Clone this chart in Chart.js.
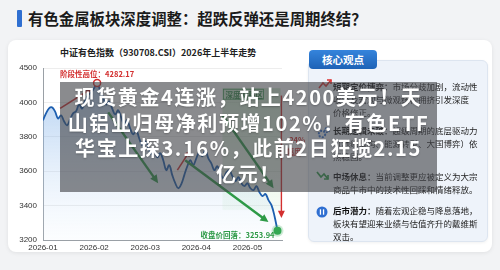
<!DOCTYPE html>
<html>
<head>
<meta charset="utf-8">
<script src="https://cdn.jsdelivr.net/npm/chart.js@4"></script>
<style>
  html, body { margin: 0; padding: 0; }
  body {
    width: 500px; height: 270px; overflow: hidden; position: relative;
    background: #f2f3f5;
    font-family: "Noto Sans CJK SC", "Noto Sans", sans-serif;
  }
  .card { position: absolute; left: 8px; top: 40px; width: 484px; height: 212px;
    background: #fff; border-radius: 8px; box-shadow: 0 1px 4px rgba(0,0,0,0.08); }
  .bar { position: absolute; left: 17px; top: 10px; width: 5px; height: 17px; background: #2f6fd1; border-radius: 1px; }
  .title { position: absolute; left: 28px; top: 7px; font-size: 15.4px; font-weight: 700; color: #1b1b1b; line-height: 22px; white-space: nowrap; }
  .ctitle { position: absolute; left: 60px; top: 46px; font-size: 9px; font-weight: 700; color: #222; white-space: nowrap; line-height: 14px; }
  canvas { position: absolute; left: 0; top: 0; }
  .panel { position: absolute; left: 308px; top: 60px; width: 180px; height: 182px;
    background: #eef3fa; border: 1px solid #dde5f0; border-radius: 6px; box-sizing: border-box;
    box-shadow: 0 1px 3px rgba(0,0,0,0.06); }
  .tag { position: absolute; left: 309px; top: 50px; width: 68px; height: 19px;
    background: linear-gradient(#3584dc, #1d62b6); border-radius: 4px; color: #fff;
    font-size: 10.5px; font-weight: 700; text-align: center; line-height: 19px; }
  .item { position: absolute; left: 333px; font-size: 8.5px; line-height: 13px; color: #222; white-space: nowrap; }
  .item b { color: #111; }
  .icon { position: absolute; }
  .overlay { position: absolute; left: 60px; top: 82px; width: 377px; height: 110px;
    background: rgba(66,68,72,0.62); color: #fff; text-align: center;
    font-size: 20px; font-weight: 700; line-height: 25.5px; letter-spacing: 1.6px;
    padding-top: 2px; box-sizing: border-box; white-space: nowrap;
    text-shadow: 0 1px 2px rgba(0,0,0,0.25); }
</style>
</head>
<body>
<div class="card"></div>
<div class="bar"></div>
<div class="title">有色金属板块深度调整：超跌反弹还是周期终结？</div>
<div class="ctitle">中证有色指数（930708.CSI）2026年上半年走势</div>

<canvas id="chart" width="500" height="270"></canvas>

<div class="panel"></div>
<div class="tag">核心观点</div>

<svg class="icon" style="left:318px;top:78px" width="14" height="12" viewBox="0 0 14 12">
  <polyline points="1,10 5,5 8,8 13,2" fill="none" stroke="#d33" stroke-width="1.6"/>
  <polyline points="9,2 13,2 13,6" fill="none" stroke="#d33" stroke-width="1.6"/>
</svg>
<div class="item" style="top:80px"><b>短期定价博弈：</b>市场分歧加剧，流动性<br>收紧及宏观与微观结构拥挤引发深度<br>价格修正。</div>

<svg class="icon" style="left:317px;top:126px" width="14" height="14" viewBox="0 0 14 14">
  <circle cx="5" cy="8" r="3.2" fill="none" stroke="#2f6fd1" stroke-width="2" stroke-dasharray="2 1.2"/>
  <circle cx="10" cy="4" r="2.3" fill="none" stroke="#2f6fd1" stroke-width="1.6" stroke-dasharray="1.6 1"/>
</svg>
<div class="item" style="top:124px"><b>长期逻辑未破：</b>超级周期的底层驱动力<br>（地缘重构、能源转型、大国博弈）依<br>然稳固。</div>

<svg class="icon" style="left:316px;top:170px" width="14" height="12" viewBox="0 0 14 12">
  <polyline points="1,2 5,7 8,4 12,9" fill="none" stroke="#2e9a47" stroke-width="1.7"/>
  <polyline points="12,5 12,9 8,9" fill="none" stroke="#2e9a47" stroke-width="1.7"/>
</svg>
<div class="item" style="top:170px"><b>中场休息：</b>当前调整更应被定义为大宗<br>商品牛市中的技术性回踩和情绪释放。</div>

<svg class="icon" style="left:316px;top:206px" width="12" height="12" viewBox="0 0 12 12">
  <circle cx="6" cy="6" r="5.5" fill="#2f6fd1"/>
  <rect x="3.8" y="3.3" width="1.3" height="5.4" fill="#fff"/>
  <rect x="6.9" y="3.3" width="1.3" height="5.4" fill="#fff"/>
</svg>
<div class="item" style="top:204px"><b>后市潜力：</b>随着宏观企稳与降息落地，<br>板块有望迎来业绩与估值齐升的戴维斯<br>双击。</div>

<div class="overlay">现货黄金4连涨，站上4200美元！天<br>山铝业归母净利预增102%！有色ETF<br>华宝上探3.16%，此前2日狂揽2.15<br>亿元！</div>

<script>
// axis labels (the picture's y axis is not evenly valued)
const yTicks = [3200, 3400, 3600, 3800, 4000, 4500];
const monthLabels = ['2026-01', '2026-02', '2026-03', '2026-04', '2026-05'];
const monthStartIdx = [0, 17, 34, 51, 68];

// daily close of 930708.CSI
const closes = [
    3896, 3936, 3965, 3971, 3948, 3907, 3925, 3890, 3867, 3901,
    3936, 3948, 3988, 3965, 4029, 4103, 4147, 4206, 4282.17, 4176,
    4074, 3988, 4015, 3965, 3930, 3954, 3913, 3872, 3896, 3849,
    3814, 3838, 3791, 3751, 3774, 3739, 3699, 3722, 3681, 3704,
    3664, 3606, 3635, 3577, 3530, 3501, 3525, 3577, 3629, 3664,
    3635, 3675, 3710, 3687, 3722, 3675, 3646, 3606, 3629, 3588,
    3559, 3594, 3606, 3571, 3542, 3565, 3530, 3513, 3530, 3501,
    3490, 3513, 3478, 3455, 3467, 3432, 3403, 3340, 3253.94
];
const peakIdx = 18;
const peakLabel = '阶段性高位：4282.17';
const lastLabel = '收盘价回落：3253.94';

// map a price onto the tick-index axis (ticks are evenly spaced)
function toAxis(v) {
    for (let k = 0; k < yTicks.length - 1; k++) {
        if (v <= yTicks[k + 1] || k === yTicks.length - 2) {
            return k + (v - yTicks[k]) / (yTicks[k + 1] - yTicks[k]);
        }
    }
}

const points = closes.map((v, i) => ({ x: i, y: toAxis(v) }));

function drawArrow(ctx, x1, y1, x2, y2, color, w, head) {
    const a = Math.atan2(y2 - y1, x2 - x1);
    ctx.save();
    ctx.strokeStyle = color;
    ctx.fillStyle = color;
    ctx.lineWidth = w;
    ctx.beginPath();
    ctx.moveTo(x1, y1);
    ctx.lineTo(x2 - Math.cos(a) * head * 0.8, y2 - Math.sin(a) * head * 0.8);
    ctx.stroke();
    ctx.beginPath();
    ctx.moveTo(x2, y2);
    ctx.lineTo(x2 - head * Math.cos(a - 0.45), y2 - head * Math.sin(a - 0.45));
    ctx.lineTo(x2 - head * Math.cos(a + 0.45), y2 - head * Math.sin(a + 0.45));
    ctx.closePath();
    ctx.fill();
    ctx.restore();
}

const notesPlugin = {
    id: 'notes',
    beforeDatasetsDraw(chart) {
        const { ctx, scales: { x, y } } = chart;
        // shaded "deep adjustment" zone
        const zx1 = x.getPixelForValue(59.7), zx2 = x.getPixelForValue(79);
        const zy1 = y.getPixelForValue(toAxis(4206)), zy2 = y.getPixelForValue(toAxis(3374));
        const g = ctx.createLinearGradient(0, zy1, 0, zy2);
        g.addColorStop(0, 'rgba(150,210,150,0.45)');
        g.addColorStop(1, 'rgba(190,230,190,0.15)');
        ctx.save();
        ctx.fillStyle = g;
        ctx.fillRect(zx1, zy1, zx2 - zx1, zy2 - zy1);
        ctx.strokeStyle = '#3d9a52';
        ctx.lineWidth = 0.8;
        ctx.strokeRect(zx1 + 1, zy1 + 1, 40, 10);
        ctx.fillStyle = '#2e8a44';
        ctx.font = '700 7.5px "Noto Sans CJK SC"';
        ctx.textBaseline = 'middle';
        ctx.fillText('深度调整区', zx1 + 3, zy1 + 6.5);
        ctx.restore();
    },
    afterDatasetsDraw(chart) {
        const { ctx, scales: { x, y } } = chart;
        const P = (i, v) => [x.getPixelForValue(i), y.getPixelForValue(toAxis(v))];
        const red = '#d32f2f', green = '#2e9a47';

        // trend arrows
        [[5.7, 3965, 16.3, 4206], [44.7, 3606, 49, 3722]].forEach(a => {
            const [x1, y1] = P(a[0], a[1]), [x2, y2] = P(a[2], a[3]);
            drawArrow(ctx, x1, y1, x2, y2, red, 1.6, 7);
        });
        [[21.7, 3942, 38.3, 3530], [47.3, 3664, 75, 3304], [59.7, 3925, 76.7, 3501]].forEach(a => {
            const [x1, y1] = P(a[0], a[1]), [x2, y2] = P(a[2], a[3]);
            drawArrow(ctx, x1, y1, x2, y2, green, 2.4, 9);
        });
        // drawdown arrow
        const [dx1, dy1] = P(79.3, 4100), [, dy2] = P(79.3, 3328);
        drawArrow(ctx, dx1, dy1, dx1, dy2, red, 1.4, 8);
        ctx.save();
        ctx.fillStyle = red;
        ctx.font = '700 7.5px "Noto Sans CJK SC"';
        ctx.textBaseline = 'middle';
        ctx.fillText('-24%', dx1 + 5, dy1 + 45);
        ctx.fillText('幅度', dx1 + 5, dy1 + 57);
        ctx.restore();

        // peak and last point markers
        const meta = chart.getDatasetMeta(0);
        const pk = meta.data[peakIdx], ls = meta.data[closes.length - 1];
        ctx.save();
        ctx.beginPath();
        ctx.arc(pk.x, pk.y, 3.5, 0, Math.PI * 2);
        ctx.fillStyle = '#fff';
        ctx.fill();
        ctx.lineWidth = 1.5;
        ctx.strokeStyle = red;
        ctx.stroke();
        ctx.beginPath();
        ctx.arc(ls.x, ls.y, 6, 0, Math.PI * 2);
        ctx.fillStyle = 'rgba(60,170,90,0.25)';
        ctx.fill();
        ctx.beginPath();
        ctx.arc(ls.x, ls.y, 4, 0, Math.PI * 2);
        ctx.fillStyle = '#34a853';
        ctx.fill();

        ctx.font = '700 7.5px "Noto Sans CJK SC"';
        ctx.textBaseline = 'middle';
        ctx.textAlign = 'center';
        ctx.fillStyle = red;
        ctx.fillText(peakLabel, pk.x, pk.y - 9);
        ctx.textAlign = 'right';
        ctx.fillStyle = green;
        ctx.fillText(lastLabel, ls.x - 3, ls.y + 4);
        ctx.restore();
    }
};

const ctx = document.getElementById('chart').getContext('2d');
new Chart(ctx, {
    type: 'line',
    data: {
        datasets: [{
            data: points,
            borderColor: '#1d5fb0',
            borderWidth: 1.8,
            tension: 0.4,
            pointRadius: 0,
            fill: 'start',
            backgroundColor: c => {
                const a = c.chart.chartArea;
                if (!a) return 'rgba(120,170,230,0.3)';
                const g = c.chart.ctx.createLinearGradient(0, a.top, 0, a.bottom);
                g.addColorStop(0, 'rgba(95,155,225,0.55)');
                g.addColorStop(1, 'rgba(210,230,250,0.08)');
                return g;
            }
        }]
    },
    options: {
        responsive: false,
        animation: false,
        devicePixelRatio: 1,
        layout: { padding: { top: 68, left: 0, right: 218, bottom: 0 } },
        plugins: { legend: { display: false }, tooltip: { enabled: false } },
        scales: {
            x: {
                type: 'linear', min: 0, max: 79.5,
                afterBuildTicks: s => { s.ticks = monthStartIdx.map(v => ({ value: v })); },
                afterFit: s => { s.height = 30; },
                ticks: {
                    callback: v => monthLabels[monthStartIdx.indexOf(v)],
                    color: '#333', font: { size: 8, family: 'Liberation Sans' }, padding: 3,
                    maxRotation: 0
                },
                grid: { display: false, drawTicks: false },
                border: { color: '#9aa0a6' }
            },
            y: {
                type: 'linear', min: 0, max: yTicks.length - 1,
                afterBuildTicks: s => { s.ticks = yTicks.map((t, i) => ({ value: i })); },
                afterFit: s => { s.width = 43; },
                ticks: {
                    callback: v => String(yTicks[v]),
                    color: '#333', font: { size: 8, family: 'Liberation Sans' }, padding: 6
                },
                grid: { color: 'rgba(0,0,0,0.07)', drawTicks: false },
                border: { color: '#9aa0a6' }
            }
        }
    },
    plugins: [notesPlugin]
});
</script>
</body>
</html>
